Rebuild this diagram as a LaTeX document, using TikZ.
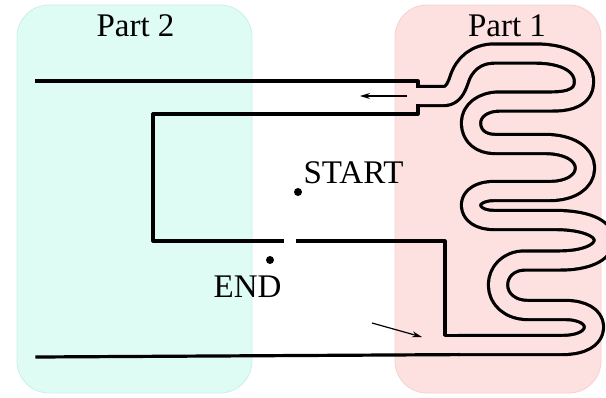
\documentclass[tikz,border=0pt]{standalone}
\usepackage{fontspec}
\setmainfont{Liberation Serif}
\usetikzlibrary{arrows.meta}
\definecolor{cyanbox}{RGB}{222,251,244}
\definecolor{cyanedge}{RGB}{204,240,232}
\definecolor{pinkbox}{RGB}{253,224,224}
\definecolor{pinkedge}{RGB}{244,210,210}
\begin{document}
\begin{tikzpicture}[x=1pt,y=-1pt,
  wall/.style={line width=3.2pt, line join=round, line cap=rect},
  channel/.style={line width=3.2pt, double=pinkbox, double distance=16pt, line join=round},
  flow/.style={line width=1.2pt, -{Stealth[length=10pt,width=6pt]}},
  lbl/.style={font=\fontsize{33}{33}\selectfont, inner sep=0pt, anchor=base},
  dot/.style={circle, fill=black, inner sep=0pt, minimum size=8pt},
  region/.style={rounded corners=32pt, line width=0.8pt}]
\useasboundingbox (0,0) rectangle (606,397);
\fill[white] (0,0) rectangle (606,397);
% regions
\draw[region, draw=cyanedge, fill=cyanbox] (17,5) rectangle (252,393);
\draw[region, draw=pinkedge, fill=pinkbox] (395,5) rectangle (601,393);
% labels
\node[lbl] (part2) at (135.5,36) {Part 2};
\node[lbl] (part1) at (507,36) {Part 1};
\node[lbl] (start) at (353.5,183) {START};
\node[lbl] (end) at (247.5,297) {END};
\node[dot] (startdot) at (298,192) {};
\node[dot] (enddot) at (270,260) {};
% meandering channel
\draw[channel] (418,96) -- (444,96)
  .. controls (452,96) and (456,89) .. (459,80)
  .. controls (464,64) and (476,53.5) .. (495,53.5)
  -- (535,53.5)
  .. controls (565,53.5) and (584,64) .. (584,82)
  .. controls (584,96) and (572,101.5) .. (552,101.5)
  -- (500,101.5)
  .. controls (482,101.5) and (471,111) .. (471,123)
  .. controls (471,136) and (481,144) .. (495,144)
  -- (545,144)
  .. controls (569,144) and (585,154) .. (585,168)
  .. controls (585,182) and (570,191) .. (550,191)
  -- (494,191)
  .. controls (480,191) and (471,197) .. (471,205)
  .. controls (471,214) and (480,220) .. (494,220)
  -- (555,220)
  .. controls (585,220) and (604,228) .. (604,240)
  .. controls (604,253) and (585,260.5) .. (560,260.5)
  -- (525,260.5)
  .. controls (508,260.5) and (498,272) .. (498,285)
  .. controls (498,299) and (510,310) .. (528,310)
  -- (565,310)
  .. controls (583,310) and (594,317) .. (594,327)
  .. controls (594,338) and (582,345) .. (562,345)
  -- (458,345);
% straight walls
\coordinate (topL) at (37,81);
\coordinate (stepA) at (418,81);
\coordinate (chanA) at (418,86.4);
\coordinate (chanB) at (418,105.6);
\coordinate (stepB) at (418,114);
\coordinate (recTL) at (153,114);
\coordinate (recBL) at (153,241);
\coordinate (gapL) at (282,241);
\coordinate (gapR) at (298,241);
\coordinate (recBR) at (445,241);
\coordinate (recR) at (445,335.4);
\coordinate (exitA) at (458,335.4);
\coordinate (botL) at (37,357);
\coordinate (exitB) at (458,354.6);
\draw[wall] (topL) -- (stepA) -- (chanA);
\draw[wall] (chanB) -- (stepB) -- (recTL) -- (recBL) -- (gapL);
\draw[wall] (gapR) -- (recBR) -- (recR) -- (exitA);
\draw[wall] (botL) -- (exitB);
% flow arrows
\coordinate (f1s) at (407,96);
\coordinate (f1e) at (360,96);
\coordinate (f2s) at (372,323);
\coordinate (f2e) at (422,337);
\draw[flow] (f1s) -- (f1e);
\draw[flow] (f2s) -- (f2e);
\end{tikzpicture}
\end{document}
